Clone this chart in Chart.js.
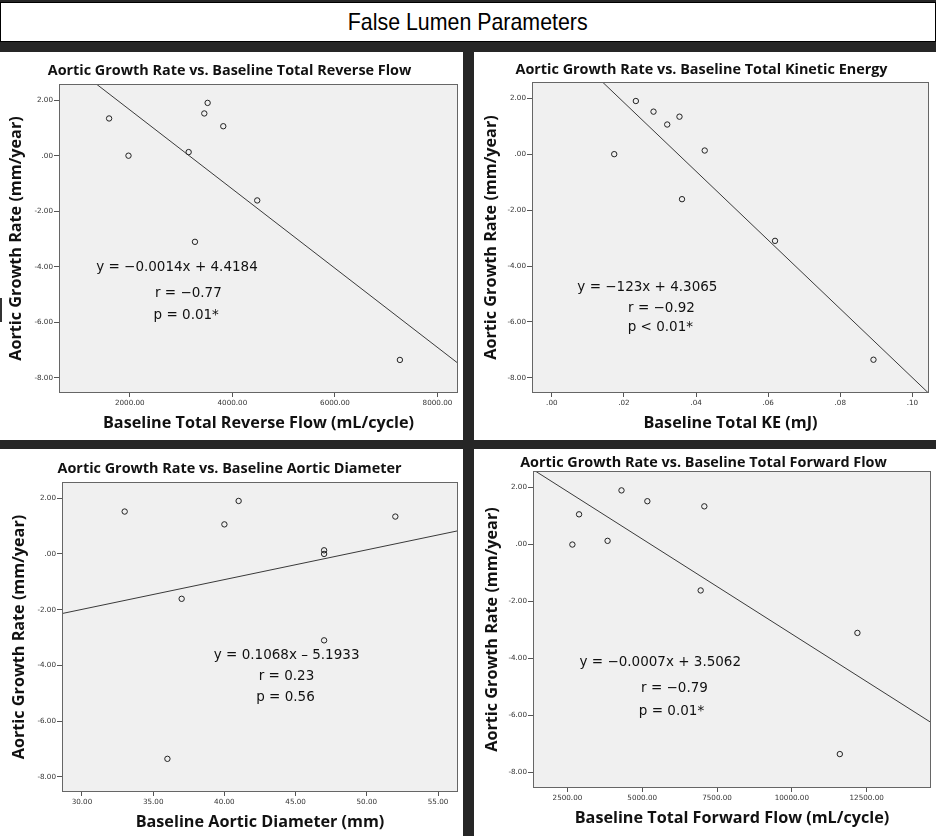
<!DOCTYPE html>
<html>
<head>
<meta charset="utf-8">
<script src="https://cdn.jsdelivr.net/npm/chart.js@4.4.1/dist/chart.umd.min.js"></script>
<style>
  html, body { margin: 0; padding: 0; }
  body { width: 936px; height: 836px; background: #262626; position: relative; overflow: hidden; }
  #header {
    position: absolute; left: 0; top: 2px; width: 936px; height: 40px;
    box-sizing: border-box; background: #fff; border: 1px solid #000;
    text-align: center; line-height: 38px; color: #000;
    font-family: "Liberation Sans", sans-serif; font-size: 24px;
  }
  #header span { display: inline-block; transform: scaleX(0.89); }
  .panel { position: absolute; background: #fff; }
  .panel canvas { display: block; }
  #p1 { left: 0; top: 52px; width: 463px; height: 388px; }
  #p2 { left: 474px; top: 52px; width: 462px; height: 388px; }
  #p3 { left: 0; top: 449px; width: 463px; height: 387px; }
  #p4 { left: 474px; top: 449px; width: 462px; height: 387px; }
  #edgeMark { position: absolute; left: 0; top: 298px; width: 2px; height: 24px; background: #333; }
</style>
</head>
<body>
<div id="header"><span>False Lumen Parameters</span></div>
<div class="panel" id="p1"><canvas id="c1" width="463" height="388"></canvas></div>
<div class="panel" id="p2"><canvas id="c2" width="462" height="388"></canvas></div>
<div class="panel" id="p3"><canvas id="c3" width="463" height="387"></canvas></div>
<div class="panel" id="p4"><canvas id="c4" width="462" height="387"></canvas></div>
<div id="edgeMark"></div>
<script>
// aortic growth rate (mm/year), one value per patient
const growthRate = [1.9, 1.52, 1.34, 1.06, 0.13, 0.0, -1.61, -3.1, -7.35];
// baseline measurements, same patient order
const reverseFlow = [3518, 3453, 1597, 3823, 3148, 1975, 4485, 3271, 7267];
const kineticEnergy = [0.0233, 0.0282, 0.0354, 0.032, 0.0424, 0.0173, 0.0361, 0.0619, 0.0892];
const aorticDiameter = [41, 33, 52, 40, 47, 47, 37, 47, 36];
const forwardFlow = [4307, 5171, 7075, 2889, 3842, 2666, 6953, 12191, 11603];

const chartTitles = [
  "Aortic Growth Rate vs. Baseline Total Reverse Flow",
  "Aortic Growth Rate vs. Baseline Total Kinetic Energy",
  "Aortic Growth Rate vs. Baseline Aortic Diameter",
  "Aortic Growth Rate vs. Baseline Total Forward Flow",
];
const xTitles = [
  "Baseline Total Reverse Flow (mL/cycle)",
  "Baseline Total KE (mJ)",
  "Baseline Aortic Diameter (mm)",
  "Baseline Total Forward Flow (mL/cycle)",
];
const yTitle = "Aortic Growth Rate (mm/year)";

// tick values
const reverseFlowTicks = [2000, 4000, 6000, 8000];
const kineticEnergyTicks = [0, 0.02, 0.04, 0.06, 0.08, 0.1];
const diameterTicks = [30, 35, 40, 45, 50, 55];
const forwardFlowTicks = [2500, 5000, 7500, 10000, 12500];
const growthTicks = [-8, -6, -4, -2, 0, 2];

const xMins = [620, -0.0055, 28.6, 1350];
const xMaxs = [8400, 0.1046, 56.4, 14650];
const yMin = -8.54;
const yMax = 2.58;

// fit lines
const fitSlopes = [-0.001425, -123, 0.1068, -0.000667];
const fitIntercepts = [4.5, 4.3065, -5.1933, 3.53];

const statTexts = [
  ["y = \u22120.0014x + 4.4184", "r = \u22120.77", "p = 0.01*"],
  ["y = \u2212123x + 4.3065", "r = \u22120.92", "p < 0.01*"],
  ["y = 0.1068x \u2013 5.1933", "r = 0.23", "p = 0.56"],
  ["y = \u22120.0007x + 3.5062", "r = \u22120.79", "p = 0.01*"],
];
// where each text line sits, in data units
const statX = [[2920, 3142, 3101], [0.0265, 0.0304, 0.0301], [44.37, 44.36, 44.29], [5603, 6078, 5978]];
const statY = [[-4.01, -4.95, -5.74], [-4.77, -5.52, -6.21], [-3.66, -4.39, -5.15], [-4.15, -5.05, -5.84]];

// panel layout: chart area edges inside each canvas
const layouts = [
  { left: 59, right: 4, top: 32, bottom: 47, titleY: 19, xTitlePad: 7, yTitlePad: 7 },
  { left: 58, right: 7, top: 30, bottom: 47, titleY: 18, xTitlePad: 7, yTitlePad: 8 },
  { left: 62, right: 4, top: 33, bottom: 44, titleY: 20, xTitlePad: 4, yTitlePad: 10 },
  { left: 59, right: 3, top: 22, bottom: 48, titleY: 14, xTitlePad: 8, yTitlePad: 9 },
];

function spssLabel(value) {
  let s = Math.abs(value).toFixed(2);
  if (s.startsWith("0.")) s = s.slice(1);
  return (value < -1e-9 ? "-" : "") + s;
}

const plotFrame = {
  id: "plotFrame",
  beforeDraw(chart) {
    const a = chart.chartArea;
    const ctx = chart.ctx;
    ctx.save();
    ctx.fillStyle = "#f0f0f0";
    ctx.fillRect(a.left, a.top, a.right - a.left, a.bottom - a.top);
    ctx.restore();
  },
  afterDatasetsDraw(chart) {
    const a = chart.chartArea;
    const ctx = chart.ctx;
    ctx.save();
    ctx.strokeStyle = "#666";
    ctx.lineWidth = 1;
    ctx.strokeRect(Math.round(a.left) + 0.5, Math.round(a.top) + 0.5,
      Math.round(a.right - a.left) - 1, Math.round(a.bottom - a.top) - 1);
    ctx.restore();
  },
};

const statText = {
  id: "statText",
  afterDraw(chart, args, opts) {
    const ctx = chart.ctx;
    ctx.save();
    ctx.font = "13.5px 'DejaVu Sans', sans-serif";
    ctx.fillStyle = "#111";
    ctx.textAlign = "center";
    ctx.textBaseline = "middle";
    opts.lines.forEach((line, i) => {
      ctx.fillText(line, chart.scales.x.getPixelForValue(opts.xs[i]), chart.scales.y.getPixelForValue(opts.ys[i]));
    });
    ctx.restore();
  },
};

function createChart(canvasId, i, xValues, xTicks) {
  const lay = layouts[i];
  const points = xValues.map((x, k) => ({ x: x, y: growthRate[k] }));
  const fit = [xMins[i], xMaxs[i]].map((x) => ({ x: x, y: fitSlopes[i] * x + fitIntercepts[i] }));
  const titleSize = 14.4;
  const titleLine = titleSize * 1.2;
  const tickFont = { family: "'DejaVu Sans', sans-serif", size: 7.2 };
  const axisTitleFont = { family: "'Open Sans', sans-serif", size: 16.2, weight: "bold" };

  return new Chart(document.getElementById(canvasId).getContext("2d"), {
    type: "scatter",
    data: {
      datasets: [
        {
          data: points,
          pointRadius: 2.7,
          pointBorderWidth: 1,
          pointBorderColor: "#222",
          pointBackgroundColor: "rgba(0,0,0,0)",
        },
        {
          type: "line",
          data: fit,
          borderColor: "#3a3a3a",
          borderWidth: 1,
          pointRadius: 0,
          fill: false,
        },
      ],
    },
    options: {
      responsive: false,
      animation: false,
      layout: { padding: { left: 0, right: lay.right, top: 0, bottom: 0 } },
      plugins: {
        legend: { display: false },
        tooltip: { enabled: false },
        title: {
          display: true,
          text: chartTitles[i],
          color: "#111",
          font: { family: "'Open Sans', sans-serif", size: titleSize, weight: "bold" },
          padding: { top: lay.titleY - titleLine / 2, bottom: lay.top - lay.titleY - titleLine / 2 },
        },
        statText: { lines: statTexts[i], xs: statX[i], ys: statY[i] },
      },
      scales: {
        x: {
          type: "linear",
          min: xMins[i],
          max: xMaxs[i],
          afterBuildTicks: (scale) => { scale.ticks = xTicks.map((v) => ({ value: v })); },
          afterFit: (scale) => { scale.height = lay.bottom; },
          border: { display: false },
          grid: { drawOnChartArea: false, drawTicks: true, tickLength: 4, color: "#555" },
          ticks: {
            autoSkip: false,
            maxRotation: 0,
            padding: 2,
            color: "#333",
            font: tickFont,
            callback: (v) => spssLabel(v),
          },
          title: { display: true, text: xTitles[i], color: "#111", font: axisTitleFont, padding: { top: 0, bottom: lay.xTitlePad } },
        },
        y: {
          type: "linear",
          min: yMin,
          max: yMax,
          afterBuildTicks: (scale) => { scale.ticks = growthTicks.map((v) => ({ value: v })); },
          afterFit: (scale) => { scale.width = lay.left; },
          border: { display: false },
          grid: { drawOnChartArea: false, drawTicks: true, tickLength: 5, color: "#555" },
          ticks: {
            autoSkip: false,
            padding: 1,
            color: "#333",
            font: tickFont,
            callback: (v) => spssLabel(v),
          },
          title: { display: true, text: yTitle, color: "#111", font: axisTitleFont, padding: { top: lay.yTitlePad, bottom: 0 } },
        },
      },
    },
    plugins: [plotFrame, statText],
  });
}

createChart("c1", 0, reverseFlow, reverseFlowTicks);
createChart("c2", 1, kineticEnergy, kineticEnergyTicks);
createChart("c3", 2, aorticDiameter, diameterTicks);
createChart("c4", 3, forwardFlow, forwardFlowTicks);
</script>
</body>
</html>
